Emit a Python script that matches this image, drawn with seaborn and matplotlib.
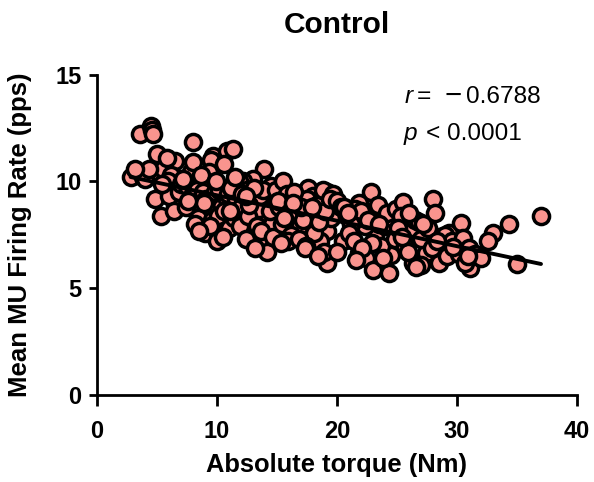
import matplotlib
matplotlib.use("Agg")
import matplotlib.pyplot as plt
import seaborn as sns
import pandas as pd

torque = [
    2.8, 3.6, 4.5, 4.6, 4.7, 4.2, 5.1, 4.4, 5.0, 6.5, 6.9, 5.7, 4.8, 6.5, 5.3, 3.8, 4.0, 5.5, 6.2, 6.0, 5.9, 6.8, 7.0, 6.4, 4.3, 5.4,
    3.2, 5.8,
    8.0, 9.7, 9.5, 7.8, 8.0, 9.3, 10.4, 8.6, 10.3, 9.2, 8.4, 9.0, 10.0, 10.7, 10.85, 10.6, 7.5, 7.9, 8.3, 8.8, 9.1, 9.8, 10.2, 8.2,
    8.9, 9.6, 10.1, 7.4, 8.7, 9.9, 10.8, 10.6, 7.6, 9.4, 10.9, 8.5, 7.2, 11.0, 10.5,
    11.3, 13.9, 13.0, 12.2, 11.8, 14.2, 11.4, 13.9, 14.0, 12.8, 14.2, 11.6, 12.0, 12.5, 13.2, 13.5, 12.3, 11.2, 12.9, 13.6, 14.5,
    14.8, 11.9, 12.6, 13.3, 14.6, 11.5, 12.1, 13.8, 14.9, 12.7, 13.1, 11.1, 14.4, 12.4, 13.7, 14.7, 12.4, 13.2,
    15.5, 16.5, 17.6, 18.0, 19.2, 19.9, 17.8, 15.4, 16.9, 19.2, 18.6, 19.2, 16.2, 15.2, 15.8, 16.0, 16.7, 17.2, 17.5, 18.3, 18.8,
    19.5, 15.9, 16.4, 17.0, 18.1, 18.5, 19.7, 15.1, 16.8, 17.4, 19.0, 18.9, 17.9, 15.6, 16.3, 19.4, 15.3, 17.3, 18.4,
    22.8, 21.8, 20.0, 23.9, 20.5, 23.2, 24.5, 21.8, 22.4, 23.0, 24.3, 20.0, 22.3, 20.8, 21.2, 21.5, 22.0, 22.6, 23.4, 24.0, 24.6,
    20.3, 21.0, 23.7, 24.8, 20.6, 22.9, 24.2, 21.4, 23.5, 20.9, 24.9, 22.1, 21.6, 23.8,
    25.5, 28.0, 28.2, 25.3, 26.1, 25.7, 27.4, 28.5, 26.3, 28.5, 25.1, 26.5, 27.0, 27.6, 28.8, 29.3, 26.8, 25.9, 27.9, 29.0, 26.0,
    27.2, 29.6, 25.4, 28.3, 29.2, 27.0, 30.2, 26.6,
    37.0, 34.3, 30.3, 33.0, 32.6, 30.5, 29.7, 31.0, 31.1, 30.7, 35.0, 31.5, 32.0, 30.9,
]

firing_rate = [
    10.2, 12.2, 12.6, 12.4, 12.2, 10.5, 10.4, 10.3, 11.3, 10.95, 10.1, 9.7, 9.2, 8.9, 8.4, 10.2, 10.1, 10.6, 10.3, 9.3, 10.0, 9.5, 9.9, 8.6, 10.6, 9.9,
    10.6, 11.1,
    11.85, 11.2, 11.0, 10.45, 10.9, 10.45, 9.7, 8.8, 8.8, 8.6, 8.3, 7.6, 7.2, 8.05, 11.45, 10.8, 9.8, 9.3, 9.6, 9.5, 9.2, 9.5, 9.6, 8.0,
    9.0, 8.2, 8.4, 8.8, 10.3, 10.0, 9.2, 8.6, 9.1, 7.9, 9.4, 7.7, 10.1, 7.8, 7.4,
    11.5, 10.6, 10.1, 10.0, 10.0, 9.4, 8.3, 8.3, 7.35, 7.6, 6.7, 9.2, 8.8, 9.6, 9.1, 8.7, 8.0, 9.7, 9.5, 9.3, 9.8,
    8.9, 7.9, 8.4, 7.9, 8.0, 10.2, 9.4, 9.6, 9.6, 8.9, 9.7, 8.6, 8.6, 9.3, 7.7, 7.4, 7.3, 6.9,
    10.0, 9.3, 9.7, 9.3, 9.5, 9.0, 8.7, 8.0, 7.9, 7.7, 7.2, 6.2, 7.5, 8.8, 9.4, 8.5, 9.2, 8.2, 9.2, 8.9, 9.6,
    8.3, 7.2, 9.5, 8.8, 7.6, 8.1, 9.4, 9.1, 7.3, 7.0, 8.6, 6.7, 8.8, 8.3, 9.0, 9.2, 7.1, 6.9, 6.5,
    9.5, 9.0, 9.1, 8.5, 7.2, 7.4, 6.55, 6.65, 6.4, 5.85, 5.7, 6.7, 7.9, 8.4, 8.0, 8.7, 8.6, 8.2, 8.9, 7.9, 8.3,
    8.8, 7.6, 7.0, 7.3, 8.8, 7.1, 8.5, 7.2, 8.0, 8.5, 8.7, 6.9, 6.3, 6.4,
    9.05, 9.2, 8.5, 8.4, 7.7, 7.0, 6.65, 6.2, 6.2, 7.4, 7.8, 8.2, 7.3, 7.8, 7.0, 7.6, 8.1, 6.7, 6.9, 7.5, 8.5,
    8.0, 7.2, 7.4, 7.2, 6.5, 6.1, 6.6, 6.0,
    8.4, 8.0, 8.05, 7.6, 7.2, 7.35, 6.95, 6.9, 5.95, 6.2, 6.15, 6.6, 6.4, 6.5,
]

x_ticks = [0, 10, 20, 30, 40]
y_ticks = [0, 5, 10, 15]

df = pd.DataFrame({"torque": torque, "rate": firing_rate})

sns.set_style("ticks")
plt.rcParams["font.family"] = ["Liberation Sans", "DejaVu Sans"]
plt.rcParams["text.color"] = "black"
plt.rcParams["axes.labelcolor"] = "black"

W, H = 594, 482
fig = plt.figure(figsize=(W / 100, H / 100), dpi=100)
ax = fig.add_axes([97 / W, 87 / H, 480 / W, 320.3 / H])

sns.regplot(
    data=df, x="torque", y="rate", ax=ax, ci=None, truncate=True,
    scatter_kws=dict(s=135, color="#F9948E", edgecolor="black", linewidths=2.5, alpha=1),
    line_kws=dict(color="black", lw=2.8),
)

ax.set_xlim(0, 40)
ax.set_ylim(0, 15)
ax.set_xticks(x_ticks)
ax.set_yticks(y_ticks)
for s in ["top", "right"]:
    ax.spines[s].set_visible(False)
for s in ["left", "bottom"]:
    ax.spines[s].set_linewidth(2.0)
    ax.spines[s].set_color("black")
ax.tick_params(axis="both", direction="out", width=2.0, colors="black", labelsize=17)
ax.tick_params(axis="x", length=8, pad=10)
ax.tick_params(axis="y", length=6, pad=5)
for lab in ax.get_xticklabels() + ax.get_yticklabels():
    lab.set_fontweight("bold")

ax.set_xlabel("Absolute torque (Nm)", fontsize=18.4, fontweight="bold", labelpad=7)
ax.set_ylabel("Mean MU Firing Rate (pps)", fontsize=18.5, fontweight="bold")
ax.yaxis.set_label_coords((32 - 97) / 480, 0.5)
ax.set_title("Control", fontsize=21.5, fontweight="bold", pad=30)

fs = 17.6
# r = -0.6788 (pieces placed in figure pixels)
fig.text(405 / W, 1 - 103 / H, "r", fontsize=fs, fontstyle="italic", ha="left", va="baseline")
fig.text(417 / W, 1 - 103 / H, "=", fontsize=fs, ha="left", va="baseline")
fig.text(445 / W, 1 - 104 / H, "\u2212", fontsize=fs * 1.2, ha="left", va="baseline")
fig.text(466 / W, 1 - 103 / H, "0.6788", fontsize=fs, ha="left", va="baseline")
# p < 0.0001
fig.text(404 / W, 1 - 140 / H, "p", fontsize=fs, fontstyle="italic", ha="left", va="baseline")
fig.text(426 / W, 1 - 140 / H, "<", fontsize=fs, ha="left", va="baseline")
fig.text(447 / W, 1 - 140 / H, "0.0001", fontsize=fs, ha="left", va="baseline")

fig.savefig("out.png", dpi=100)
